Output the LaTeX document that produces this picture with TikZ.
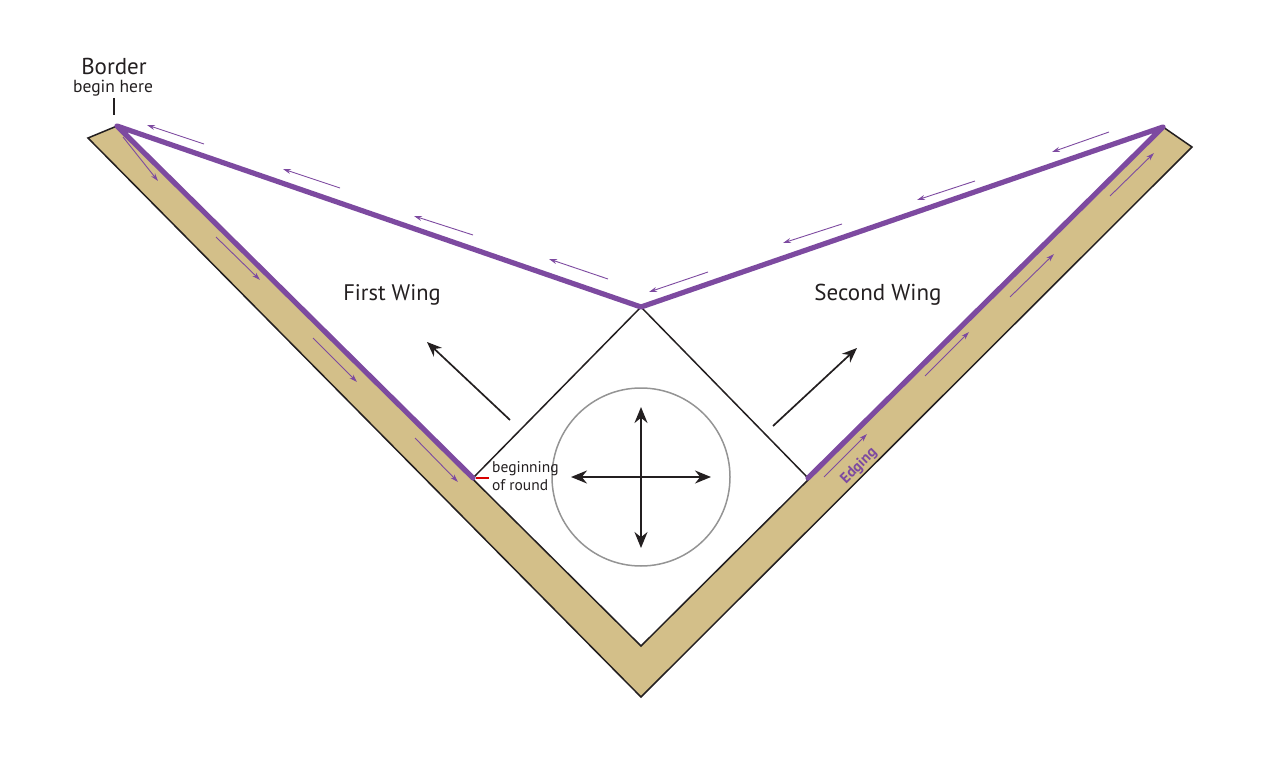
\documentclass[tikz,border=0pt]{standalone}
\usepackage{fontspec}
\setmainfont{PT Sans}
\usetikzlibrary{arrows.meta}
\definecolor{edgepurple}{RGB}{125,74,160}
\definecolor{bandtan}{RGB}{211,191,137}
\definecolor{inkgray}{RGB}{35,31,32}
\begin{document}
\begin{tikzpicture}[x=1pt,y=-1pt,
  purp/.style={draw=edgepurple,line width=5.2pt,line join=round,line cap=round},
  smallarr/.style={edgepurple,line width=0.9pt,-{Stealth[length=8pt,width=5pt]}},
  wingarr/.style={inkgray,line width=1.7pt,-{Stealth[length=15pt,width=12pt]}},
  crossarr/.style={inkgray,line width=1.9pt,{Stealth[length=16pt,width=13pt]}-{Stealth[length=16pt,width=13pt]}},
  lbl/.style={font=\fontsize{22.5}{26}\selectfont,text=inkgray,inner sep=0pt},
  smalllbl/.style={font=\fontsize{15.5}{18}\selectfont,text=inkgray,inner sep=0pt,align=left}]
\useasboundingbox (0,0) rectangle (1278,760);
% key points
\coordinate (TL) at (117,126);
\coordinate (VT) at (641,307);
\coordinate (TR) at (1163,127);
\coordinate (LR) at (473,478);
\coordinate (RR) at (808,478);
\coordinate (BT) at (641,646);
\coordinate (OL) at (88,138);
\coordinate (OR) at (1192,147);
\coordinate (OB) at (641,697);
% tan band
\filldraw[fill=bandtan,draw=inkgray,line width=1.5pt,line join=miter] (OL) -- (TL) -- (BT) -- (TR) -- (OR) -- (OB) -- cycle;
% diamond upper half
\draw[inkgray,line width=1.5pt] (LR) -- (VT) -- (RR);
% purple border
\draw[purp] (LR) -- (TL) -- (VT) -- (TR) -- (RR);
% small purple arrows along top edges
\coordinate (a1s) at (204,144); \coordinate (a1e) at (147,125);
\coordinate (a2s) at (340,188); \coordinate (a2e) at (283,169);
\coordinate (a3s) at (473,235); \coordinate (a3e) at (414,216);
\coordinate (a4s) at (608,279); \coordinate (a4e) at (549,259);
\coordinate (b1s) at (708,272); \coordinate (b1e) at (649,292);
\coordinate (b2s) at (842,224); \coordinate (b2e) at (783,243);
\coordinate (b3s) at (975,181); \coordinate (b3e) at (917,200);
\coordinate (b4s) at (1109,132); \coordinate (b4e) at (1052,152);
\foreach \n in {a1,a2,a3,a4,b1,b2,b3,b4} \draw[smallarr] (\n s) -- (\n e);
% small purple arrows in band
\coordinate (c1s) at (123,137); \coordinate (c1e) at (158,181);
\coordinate (c2s) at (216,237); \coordinate (c2e) at (260,280);
\coordinate (c3s) at (313,338); \coordinate (c3e) at (357,382);
\coordinate (c4s) at (415,438); \coordinate (c4e) at (458,482);
\coordinate (d1s) at (824,477); \coordinate (d1e) at (867,434);
\coordinate (d2s) at (925,376); \coordinate (d2e) at (969,332);
\coordinate (d3s) at (1010,297); \coordinate (d3e) at (1054,254);
\coordinate (d4s) at (1110,196); \coordinate (d4e) at (1154,153);
\foreach \n in {c1,c2,c3,c4,d1,d2,d3,d4} \draw[smallarr] (\n s) -- (\n e);
% wing arrows
\coordinate (w1s) at (510,420); \coordinate (w1e) at (427,342);
\coordinate (w2s) at (773,426); \coordinate (w2e) at (857,348);
\draw[wingarr] (w1s) -- (w1e);
\draw[wingarr] (w2s) -- (w2e);
% centre circle and cross
\node[circle,draw=black!42,line width=1.5pt,minimum size=178pt,inner sep=0pt] (hub) at (641,477) {};
\coordinate (hl) at (571,477); \coordinate (hr) at (711,477);
\coordinate (vt) at (641,407); \coordinate (vb) at (641,548);
\draw[crossarr] (hl) -- (hr);
\draw[crossarr] (vt) -- (vb);
% labels
\node[lbl,font=\fontsize{23}{26}\selectfont] (border) at (114,66) {Border};
\node[smalllbl,font=\fontsize{17.5}{20}\selectfont] (beginhere) at (113,88) {begin here};
\coordinate (tickT) at (114,98); \coordinate (tickB) at (114,115);
\draw[inkgray,line width=1.6pt] (tickT) -- (tickB);
\node[lbl] (first) at (392,295) {First Wing};
\node[lbl,font=\fontsize{23}{26}\selectfont] (second) at (878,295) {Second Wing};
\node[smalllbl,anchor=west] (round) at (492,476) {beginning\\of round};
\coordinate (rtA) at (476,478); \coordinate (rtB) at (489,478);
\draw[red!85!black,line width=1.5pt] (rtA) -- (rtB);
\node[text=edgepurple,font=\bfseries\fontsize{15}{17}\selectfont,rotate=45,inner sep=0pt] (edging) at (859,466) {Edging};
\end{tikzpicture}
\end{document}
